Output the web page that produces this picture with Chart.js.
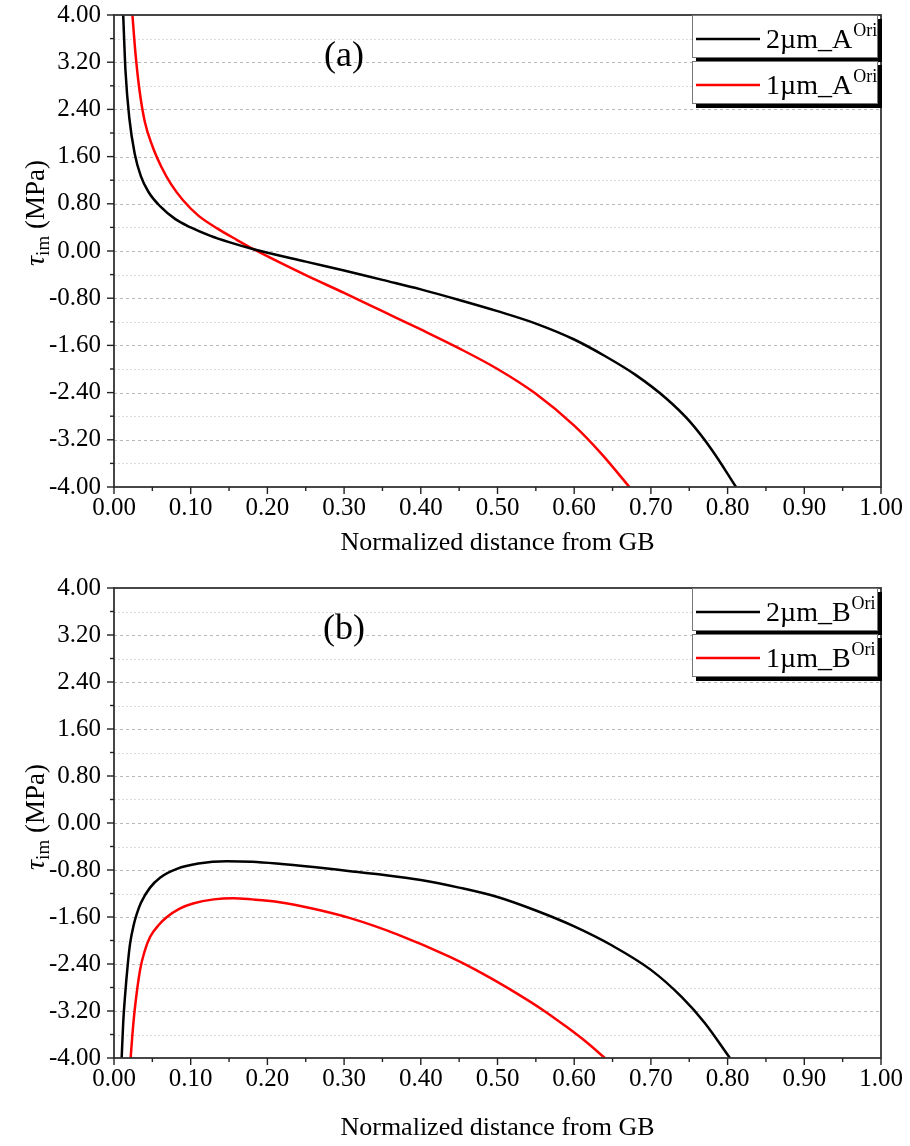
<!DOCTYPE html>
<html>
<head>
<meta charset="utf-8">
<script src="https://cdn.jsdelivr.net/npm/chart.js@4.4.0/dist/chart.umd.min.js"></script>
<style>
  body { margin: 0; background: #fff; }
  .panel { position: absolute; left: 0; width: 910px; height: 573px; }
</style>
</head>
<body>
<div class="panel" style="top:0"><canvas id="chart-a" width="910" height="573"></canvas></div>
<div class="panel" style="top:573px"><canvas id="chart-b" width="910" height="573"></canvas></div>
<script>
// tick labels
const xTickValues = [0, 0.1, 0.2, 0.3, 0.4, 0.5, 0.6, 0.7, 0.8, 0.9, 1.0];
const xTickLabels = ["0.00", "0.10", "0.20", "0.30", "0.40", "0.50", "0.60", "0.70", "0.80", "0.90", "1.00"];
const yTickValues = [4, 3.2, 2.4, 1.6, 0.8, 0, -0.8, -1.6, -2.4, -3.2, -4];
const yTickLabels = ["4.00", "3.20", "2.40", "1.60", "0.80", "0.00", "-0.80", "-1.60", "-2.40", "-3.20", "-4.00"];

// panel (a)
const namesA = ["2\u00b5m_A", "1\u00b5m_A"];
const x2umA = [0.012, 0.015, 0.020, 0.027, 0.035, 0.045, 0.060, 0.080, 0.100, 0.125, 0.150, 0.182, 0.250, 0.300, 0.350, 0.400, 0.450, 0.500, 0.550, 0.600, 0.640, 0.680, 0.720, 0.750, 0.780, 0.811];
const y2umA = [4.0, 3.05, 2.25, 1.65, 1.27, 1.0, 0.76, 0.54, 0.40, 0.26, 0.15, 0.03, -0.18, -0.33, -0.49, -0.65, -0.83, -1.02, -1.23, -1.50, -1.78, -2.10, -2.50, -2.88, -3.38, -4.0];
const x1umA = [0.024, 0.028, 0.033, 0.040, 0.050, 0.062, 0.075, 0.090, 0.110, 0.135, 0.160, 0.182, 0.250, 0.300, 0.350, 0.400, 0.450, 0.500, 0.550, 0.600, 0.635, 0.672];
const y1umA = [4.0, 3.35, 2.75, 2.20, 1.78, 1.42, 1.12, 0.86, 0.60, 0.38, 0.19, 0.03, -0.41, -0.71, -1.02, -1.33, -1.65, -2.00, -2.42, -2.96, -3.43, -4.0];

// panel (b)
const namesB = ["2\u00b5m_B", "1\u00b5m_B"];
const x2umB = [0.010, 0.012, 0.0143, 0.018, 0.021, 0.026, 0.0296, 0.035, 0.047, 0.060, 0.082, 0.110, 0.147, 0.180, 0.212, 0.260, 0.308, 0.350, 0.400, 0.450, 0.500, 0.550, 0.600, 0.650, 0.700, 0.740, 0.770, 0.803];
const y2umB = [-4.0, -3.4, -2.96, -2.4, -2.05, -1.72, -1.55, -1.36, -1.10, -0.93, -0.78, -0.69, -0.65, -0.66, -0.69, -0.75, -0.82, -0.88, -0.97, -1.10, -1.26, -1.49, -1.76, -2.09, -2.50, -2.96, -3.40, -4.0];
const x1umB = [0.0217, 0.024, 0.027, 0.034, 0.040, 0.047, 0.058, 0.069, 0.085, 0.103, 0.130, 0.155, 0.180, 0.212, 0.260, 0.308, 0.370, 0.438, 0.480, 0.525, 0.560, 0.590, 0.615, 0.640];
const y1umB = [-4.0, -3.6, -3.18, -2.5, -2.18, -1.94, -1.74, -1.60, -1.46, -1.37, -1.30, -1.28, -1.30, -1.34, -1.46, -1.62, -1.90, -2.28, -2.56, -2.90, -3.19, -3.47, -3.72, -4.0];

const SERIF = "'Liberation Serif', 'Times New Roman', serif";

function pts(xs, ys) {
  return xs.map((x, i) => ({ x: x, y: ys[i] }));
}

function labelFor(values, labels, v) {
  const i = values.findIndex(t => Math.abs(t - v) < 1e-6);
  return i >= 0 ? labels[i] : "";
}

const decor = {
  id: "decor",
  beforeDatasetsDraw(chart) {
    const { ctx, chartArea: a, scales: { y } } = chart;
    ctx.save();
    ctx.lineWidth = 1;
    y.ticks.forEach(t => {
      const py = Math.round(y.getPixelForValue(t.value)) + 0.5;
      if (py < a.top + 2 || py > a.bottom - 2) return;
      const major = labelFor(yTickValues, yTickLabels, t.value) !== "";
      ctx.strokeStyle = major ? "#b8b8b8" : "#dcdcdc";
      ctx.setLineDash(major ? [3, 3] : [2, 2]);
      ctx.beginPath();
      ctx.moveTo(a.left, py);
      ctx.lineTo(a.right, py);
      ctx.stroke();
    });
    ctx.restore();
  },
  afterDraw(chart, args, o) {
    const { ctx, chartArea: a, scales: { x, y } } = chart;
    ctx.save();
    // frame
    ctx.strokeStyle = "#333";
    ctx.lineWidth = 1.8;
    ctx.strokeRect(a.left, a.top, a.right - a.left, a.bottom - a.top);
    // tick marks
    ctx.lineWidth = 1.4;
    ctx.strokeStyle = "#222";
    y.ticks.forEach(t => {
      const py = y.getPixelForValue(t.value);
      const len = labelFor(yTickValues, yTickLabels, t.value) ? 7 : 4;
      ctx.beginPath();
      ctx.moveTo(a.left - len, py);
      ctx.lineTo(a.left, py);
      ctx.stroke();
    });
    x.ticks.forEach(t => {
      const px = x.getPixelForValue(t.value);
      const len = labelFor(xTickValues, xTickLabels, t.value) ? 7 : 4;
      ctx.beginPath();
      ctx.moveTo(px, a.bottom);
      ctx.lineTo(px, a.bottom + len);
      ctx.stroke();
    });

    // x title
    ctx.fillStyle = "#000";
    ctx.font = "26px " + SERIF;
    ctx.textAlign = "center";
    ctx.textBaseline = "middle";
    ctx.fillText("Normalized distance from GB", (a.left + a.right) / 2, a.bottom + o.xTitleOffset);

    // y title with subscript
    ctx.save();
    ctx.translate(35, (a.top + a.bottom) / 2 + o.yTitleShift);
    ctx.rotate(-Math.PI / 2);
    ctx.textAlign = "left";
    ctx.textBaseline = "alphabetic";
    const f1 = "italic 28px " + SERIF, f2 = "19px " + SERIF, f3 = "27px " + SERIF;
    ctx.font = f1; const w1 = ctx.measureText("\u03c4").width;
    ctx.font = f2; const w2 = ctx.measureText("im").width;
    ctx.font = f3; const w3 = ctx.measureText(" (MPa)").width;
    let sx = -(w1 + w2 + w3) / 2;
    ctx.font = f1; ctx.fillText("\u03c4", sx, 9); sx += w1;
    ctx.font = f2; ctx.fillText("im", sx, 14); sx += w2;
    ctx.font = f3; ctx.fillText(" (MPa)", sx, 9);
    ctx.restore();

    // panel label
    ctx.font = "36px " + SERIF;
    ctx.textAlign = "center";
    ctx.textBaseline = "alphabetic";
    ctx.fillText(o.panel, 344, a.top + 51);

    // legend boxes with drop shadow
    chart.data.datasets.forEach((ds, i) => {
      const left = 692, w = 186, h = 43;
      const top = a.top + i * 46;
      ctx.fillStyle = "#000";
      ctx.fillRect(left + 4, top + 4, w, h);
      ctx.fillStyle = "#fff";
      ctx.fillRect(left, top, w, h);
      ctx.strokeStyle = "#777";
      ctx.lineWidth = 1;
      ctx.strokeRect(left + 0.5, top + 0.5, w - 1, h - 1);
      ctx.strokeStyle = ds.borderColor;
      ctx.lineWidth = 2.5;
      ctx.beginPath();
      ctx.moveTo(left + 4, top + 24);
      ctx.lineTo(left + 68, top + 24);
      ctx.stroke();
      ctx.fillStyle = "#000";
      ctx.textAlign = "left";
      ctx.font = "28px " + SERIF;
      const name = o.names[i];
      ctx.fillText(name, left + 74, top + 33);
      const nw = ctx.measureText(name).width;
      ctx.font = "18px " + SERIF;
      ctx.fillText(o.sup, left + 74 + nw + 1, top + 21);
    });
    ctx.restore();
  }
};

function makeChart(id, datasets, names, panel, xAxisHeight, xTitleOffset, yTitleShift) {
  return new Chart(document.getElementById(id), {
    type: "line",
    data: {
      datasets: [
        {
          label: names[0] + "Ori",
          data: pts(datasets[0][0], datasets[0][1]),
          borderColor: "#000000",
          borderWidth: 2.5,
          pointRadius: 0,
          cubicInterpolationMode: "monotone",
          fill: false
        },
        {
          label: names[1] + "Ori",
          data: pts(datasets[1][0], datasets[1][1]),
          borderColor: "#ff0000",
          borderWidth: 2.5,
          pointRadius: 0,
          cubicInterpolationMode: "monotone",
          fill: false
        }
      ]
    },
    options: {
      responsive: false,
      animation: false,
      devicePixelRatio: 1,
      layout: { padding: { top: 15, right: 29, left: 0, bottom: 0 } },
      plugins: {
        legend: { display: false },
        tooltip: { enabled: false },
        decor: { panel: panel, names: names, sup: "Ori", xTitleOffset: xTitleOffset, yTitleShift: yTitleShift }
      },
      scales: {
        x: {
          type: "linear",
          min: 0,
          max: 1,
          grid: { display: false, drawTicks: false },
          border: { display: false },
          ticks: {
            stepSize: 0.05,
            autoSkip: false,
            maxRotation: 0,
            padding: 6,
            color: "#000",
            font: { family: SERIF, size: 25 },
            callback: v => labelFor(xTickValues, xTickLabels, v)
          },
          afterFit: s => { s.height = xAxisHeight; }
        },
        y: {
          type: "linear",
          min: -4,
          max: 4,
          grid: { display: false, drawTicks: false },
          border: { display: false },
          ticks: {
            stepSize: 0.4,
            autoSkip: false,
            padding: 13,
            color: "#000",
            font: { family: SERIF, size: 25 },
            callback: v => labelFor(yTickValues, yTickLabels, v)
          },
          afterFit: s => { s.width = 114; s.paddingTop = 0; s.paddingBottom = 0; }
        }
      }
    },
    plugins: [decor]
  });
}

makeChart("chart-a", [[x2umA, y2umA], [x1umA, y1umA]], namesA, "(a)", 86, 56, -38);
makeChart("chart-b", [[x2umB, y2umB], [x1umB, y1umB]], namesB, "(b)", 88, 70, -6);
</script>
</body>
</html>
